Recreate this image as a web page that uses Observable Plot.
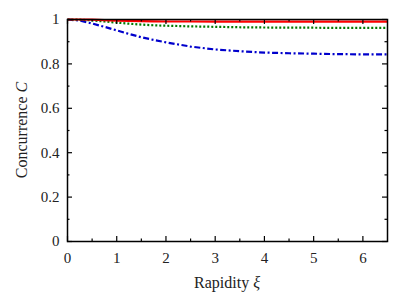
<!DOCTYPE html>
<html>
<head>
<meta charset="utf-8">
<script src="https://cdn.jsdelivr.net/npm/d3@7"></script>
<script src="https://cdn.jsdelivr.net/npm/@observablehq/plot@0.6"></script>
<style>
  html, body { margin: 0; padding: 0; background: #fff; }
  #chart svg { display: block; }
</style>
</head>
<body>
<div id="chart"></div>
<script>
const xi = [0, 0.25, 0.5, 0.75, 1, 1.25, 1.5, 1.75, 2, 2.5, 3, 3.5, 4, 4.5, 5, 5.5, 6, 6.5];
const redC = [1, 1, 0.999, 0.997, 0.995, 0.994, 0.993, 0.992, 0.991, 0.991, 0.99, 0.99, 0.99, 0.99, 0.99, 0.99, 0.99, 0.99];
const greenC = [1, 0.999, 0.996, 0.991, 0.986, 0.981, 0.977, 0.974, 0.972, 0.969, 0.967, 0.965, 0.964, 0.963, 0.963, 0.962, 0.962, 0.962];
const blueC = [1, 0.995, 0.982, 0.967, 0.951, 0.935, 0.92, 0.908, 0.897, 0.878, 0.865, 0.857, 0.851, 0.848, 0.846, 0.844, 0.843, 0.843];
const xMajor = [0, 1, 2, 3, 4, 5, 6];
const xMinor = [0.5, 1.5, 2.5, 3.5, 4.5, 5.5];
const yMajor = [0, 0.2, 0.4, 0.6, 0.8, 1];
const yMinor = [0.1, 0.3, 0.5, 0.7, 0.9];
const xLabel = ["Rapidity ", "ξ"];
const yLabel = ["Concurrence ", "C"];

const W = 416, H = 295;
const mL = 67, mR = 29, mT = 19, mB = 54;
const pw = W - mL - mR, ph = H - mT - mB;

const rows = (ys) => xi.map((x, i) => ({x, y: ys[i]}));
const font = "'Liberation Serif', 'DejaVu Serif', serif";

const chart = Plot.plot({
  width: W, height: H,
  marginLeft: mL, marginRight: mR, marginTop: mT, marginBottom: mB,
  style: {fontFamily: font, fontSize: "15px", color: "#222", background: "#fff"},
  x: {domain: [0, 6.5]},
  y: {domain: [0, 1]},
  marks: [
    Plot.line(rows(blueC), {x: "x", y: "y", stroke: "#0000cc", strokeWidth: 2.2, strokeLinecap: "butt", strokeDasharray: "6,2.5,2,2.5"}),
    Plot.line(rows(greenC), {x: "x", y: "y", stroke: "#007a00", strokeWidth: 2.2, strokeLinecap: "butt", strokeDasharray: "2,2"}),
    Plot.line(rows(redC), {x: "x", y: "y", stroke: "#ff0000", strokeWidth: 2.2, strokeLinecap: "butt"}),
    Plot.tickX(xMajor, {x: d => d, insetTop: ph - 5, stroke: "black", strokeWidth: 1.2}),
    Plot.tickX(xMajor, {x: d => d, insetBottom: ph - 5, stroke: "black", strokeWidth: 1.2}),
    Plot.tickX(xMinor, {x: d => d, insetTop: ph - 2.5, stroke: "black", strokeWidth: 1.2}),
    Plot.tickX(xMinor, {x: d => d, insetBottom: ph - 2.5, stroke: "black", strokeWidth: 1.2}),
    Plot.tickY(yMajor, {y: d => d, insetRight: pw - 5, stroke: "black", strokeWidth: 1.2}),
    Plot.tickY(yMajor, {y: d => d, insetLeft: pw - 5, stroke: "black", strokeWidth: 1.2}),
    Plot.tickY(yMinor, {y: d => d, insetRight: pw - 2.5, stroke: "black", strokeWidth: 1.2}),
    Plot.tickY(yMinor, {y: d => d, insetLeft: pw - 2.5, stroke: "black", strokeWidth: 1.2}),
    Plot.axisX(xMajor, {tickSize: 0, tickPadding: 11, label: null, tickFormat: d => String(d), fontSize: 15}),
    Plot.axisY(yMajor, {tickSize: 0, tickPadding: 8, label: null, tickFormat: d => String(d), fontSize: 15}),
    Plot.frame({stroke: "black", strokeWidth: 1.5})
  ]
});

const svg = d3.select(chart);
const xt = svg.append("text")
  .attr("x", mL + pw / 2).attr("y", 288)
  .attr("text-anchor", "middle")
  .style("font-family", font).style("font-size", "16px").attr("fill", "#222");
xt.append("tspan").text(xLabel[0]);
xt.append("tspan").style("font-style", "italic").text(xLabel[1]);

const yt = svg.append("text")
  .attr("transform", `translate(27,${mT + ph / 2}) rotate(-90)`)
  .attr("text-anchor", "middle")
  .style("font-family", font).style("font-size", "16px").attr("fill", "#222");
yt.append("tspan").text(yLabel[0]);
yt.append("tspan").style("font-style", "italic").text(yLabel[1]);

document.getElementById("chart").appendChild(chart);
</script>
</body>
</html>
